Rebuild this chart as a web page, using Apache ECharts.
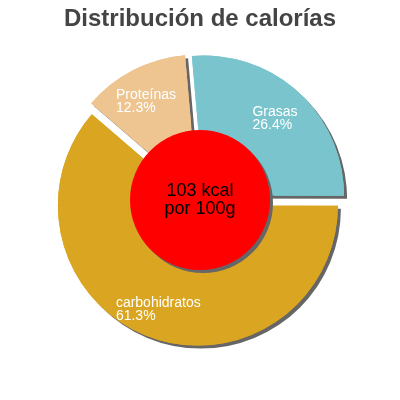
<!DOCTYPE html>
<html>
<head>
<meta charset="utf-8">
<script src="https://cdn.jsdelivr.net/npm/echarts@6/dist/echarts.min.js"></script>
<style>
html,body{margin:0;padding:0;background:#fff;}
#c{width:400px;height:400px;}
</style>
</head>
<body>
<div id="c"></div>
<script>
const titleText = 'Distribución de calorías';
const categories = ['Grasas', 'carbohidratos', 'Proteínas'];
const percents = [26.4, 61.3, 12.3];
const colors = ['#7AC5CD', '#DAA520', '#EEC591'];
const centerLines = ['103 kcal', 'por 100g'];

const chart = echarts.init(document.getElementById('c'), null, {renderer: 'canvas'});
const font = 'Liberation Sans, Arial, sans-serif';

const sliceData = () => categories.map((n, i) => ({
  name: n,
  value: percents[i],
  selected: true,
  itemStyle: {color: colors[i]}
}));

const basePie = {
  type: 'pie',
  center: ['50%', '50%'],
  startAngle: 95,
  clockwise: true,
  selectedMode: 'multiple',
  selectedOffset: 6,
  avoidLabelOverlap: false,
  emphasis: {disabled: true},
  labelLine: {show: false}
};

chart.setOption({
  animation: false,
  backgroundColor: '#ffffff',
  title: {
    text: titleText,
    left: 'center',
    top: 2,
    textStyle: {fontFamily: font, fontSize: 24, fontWeight: 'bold', color: '#444444'}
  },
  series: [
    Object.assign({}, basePie, {
      radius: [0, 140],
      itemStyle: {
        borderWidth: 0,
        shadowColor: '#666666',
        shadowBlur: 0,
        shadowOffsetX: 3,
        shadowOffsetY: 3
      },
      label: {show: false},
      data: sliceData()
    }),
    Object.assign({}, basePie, {
      radius: [70, 140],
      itemStyle: {borderWidth: 0},
      label: {
        show: true,
        position: 'inside',
        padding: [6, 4, 0, 0],
        formatter: (p) => '{a|' + p.name + '}\n{a|' + p.value + '%}',
        rich: {
          a: {color: '#ffffff', fontFamily: font, fontSize: 14, lineHeight: 13, align: 'left'}
        }
      },
      data: sliceData()
    }),
    {
      type: 'pie',
      center: ['50%', '50%'],
      radius: [0, 70],
      silent: true,
      emphasis: {disabled: true},
      itemStyle: {
        color: '#FF0000',
        shadowColor: '#666666',
        shadowBlur: 0,
        shadowOffsetX: 3,
        shadowOffsetY: 3
      },
      label: {
        show: true,
        position: 'center',
        formatter: centerLines.join('\n'),
        color: '#000000',
        fontFamily: font,
        fontSize: 18,
        lineHeight: 18
      },
      labelLine: {show: false},
      data: [{name: 'kcal', value: 1}]
    }
  ]
});
</script>
</body>
</html>
